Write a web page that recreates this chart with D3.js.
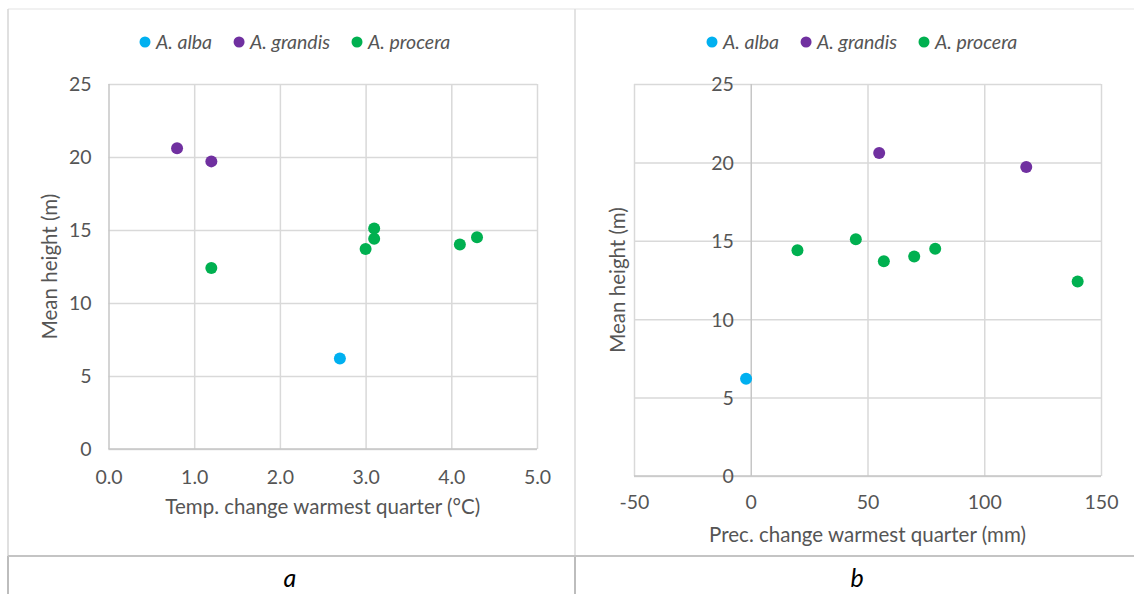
<!DOCTYPE html>
<html>
<head>
<meta charset="utf-8">
<script src="https://cdn.jsdelivr.net/npm/d3@7"></script>
<style>
  html, body { margin: 0; padding: 0; background: #ffffff; }
  svg { display: block; }
  text { font-family: Lato, "Open Sans", sans-serif; }
</style>
</head>
<body>
<svg id="chart" width="1134" height="594"></svg>
<script>
// ---- Data ----
const speciesNames = ["A. alba", "A. grandis", "A. procera"];
const speciesColors = ["#00b0f0", "#7030a0", "#00b050"];

const albaTemp = [2.7];
const albaPrec = [-2];
const albaHeight = [6.2];

const grandisTemp = [0.8, 1.2];
const grandisPrec = [55, 118];
const grandisHeight = [20.6, 19.7];

const proceraTemp = [1.2, 3.1, 3.1, 3.0, 4.1, 4.3];
const proceraPrec = [140, 45, 20, 57, 70, 79];
const proceraHeight = [12.4, 15.1, 14.4, 13.7, 14.0, 14.5];

const tempTicks = [0, 1, 2, 3, 4, 5];
const precTicks = [-50, 0, 50, 100, 150];
const heightTicks = [0, 5, 10, 15, 20, 25];

const xTitleA = "Temp. change warmest quarter (°C)";
const xTitleB = "Prec. change warmest quarter (mm)";
const yTitle = "Mean height (m)";
const panelLabels = ["a", "b"];

// ---- Build series ----
function buildSeries(xs) {
  const hs = [albaHeight, grandisHeight, proceraHeight];
  return speciesNames.map((name, i) => ({
    name, color: speciesColors[i],
    pts: xs[i].map((x, j) => ({ x, y: hs[i][j] }))
  }));
}
const seriesA = buildSeries([albaTemp, grandisTemp, proceraTemp]);
const seriesB = buildSeries([albaPrec, grandisPrec, proceraPrec]);

const svg = d3.select("#chart");
const textColor = "#555555";
const gridColor = "#d9d9d9";
const tickSize = 19.5;
const titleSize = 20.5;
const legendSize = 19.5;

// ---- Frame (table borders) ----
const frame = svg.append("g");
frame.append("line").attr("x1", 8).attr("x2", 1134).attr("y1", 9).attr("y2", 9)
  .attr("stroke", "#ececec").attr("stroke-width", 1.5);
frame.append("line").attr("x1", 8).attr("x2", 8).attr("y1", 9).attr("y2", 556)
  .attr("stroke", "#d6d6d6").attr("stroke-width", 1.5);
frame.append("line").attr("x1", 575).attr("x2", 575).attr("y1", 9).attr("y2", 556)
  .attr("stroke", "#dadada").attr("stroke-width", 1.5);
frame.append("line").attr("x1", 8).attr("x2", 8).attr("y1", 556).attr("y2", 594)
  .attr("stroke", "#bdbdbd").attr("stroke-width", 2);
frame.append("line").attr("x1", 575).attr("x2", 575).attr("y1", 556).attr("y2", 594)
  .attr("stroke", "#bdbdbd").attr("stroke-width", 2);
frame.append("line").attr("x1", 8).attr("x2", 1134).attr("y1", 556).attr("y2", 556)
  .attr("stroke", "#c4c4c4").attr("stroke-width", 2);

function drawPanel(cfg) {
  const g = svg.append("g");
  const x = d3.scaleLinear().domain(cfg.xDomain).range([cfg.left, cfg.right]);
  const y = d3.scaleLinear().domain([0, 25]).range([cfg.bottom, cfg.top]);

  // horizontal gridlines
  const yAxis = d3.axisLeft(y).tickValues(heightTicks).tickSize(-(cfg.right - cfg.left)).tickFormat("");
  const gy = g.append("g").attr("transform", `translate(${cfg.left},0)`).call(yAxis);
  gy.select(".domain").remove();
  gy.selectAll(".tick line").attr("stroke", gridColor).attr("stroke-width", 1.5);

  // vertical gridlines
  const xAxis = d3.axisBottom(x).tickValues(cfg.xTicks).tickSize(-(cfg.bottom - cfg.top)).tickFormat("");
  const gx = g.append("g").attr("transform", `translate(0,${cfg.bottom})`).call(xAxis);
  gx.select(".domain").remove();
  gx.selectAll(".tick line").attr("stroke", d => d === 0 ? "#c6c6c6" : gridColor).attr("stroke-width", 1.5);

  // bottom axis line
  g.append("line").attr("x1", cfg.left).attr("x2", cfg.right)
    .attr("y1", y(0)).attr("y2", y(0)).attr("stroke", "#c6c6c6").attr("stroke-width", 1.5);

  // x tick labels
  const xl = d3.axisBottom(x).tickValues(cfg.xTicks).tickSize(0).tickPadding(0).tickFormat(cfg.xFormat);
  const gxl = g.append("g").attr("transform", `translate(0,${cfg.bottom + cfg.xLabelOffset})`).call(xl);
  gxl.select(".domain").remove();
  gxl.selectAll("text").attr("fill", textColor).attr("font-size", tickSize)
    .attr("font-family", "Lato, sans-serif").attr("dy", "0.35em");

  // y tick labels
  const yl = d3.axisLeft(y).tickValues(heightTicks).tickSize(0).tickPadding(0).tickFormat(d3.format("d"));
  const gyl = g.append("g").attr("transform", `translate(${x(cfg.yAxisAt) - 17},0)`).call(yl);
  gyl.select(".domain").remove();
  gyl.selectAll("text").attr("fill", textColor).attr("font-size", tickSize)
    .attr("font-family", "Lato, sans-serif").attr("dy", "0.35em");

  // titles
  g.append("text").attr("x", (cfg.left + cfg.right) / 2).attr("y", cfg.xTitleY)
    .attr("text-anchor", "middle").attr("dy", "0.35em")
    .attr("fill", textColor).attr("font-size", titleSize).text(cfg.xTitle);
  g.append("text").attr("transform", `translate(${cfg.yTitleX},${(cfg.top + cfg.bottom) / 2}) rotate(-90)`)
    .attr("text-anchor", "middle").attr("dy", "0.35em")
    .attr("fill", textColor).attr("font-size", titleSize).text(yTitle);

  // points
  cfg.series.forEach(s => {
    g.append("g").selectAll("circle").data(s.pts).join("circle")
      .attr("cx", d => x(d.x)).attr("cy", d => y(d.y)).attr("r", 6)
      .attr("fill", s.color);
  });

  // legend
  const lg = g.append("g");
  let cx = cfg.legendStart;
  speciesNames.forEach((name, i) => {
    lg.append("circle").attr("cx", cx).attr("cy", cfg.legendY).attr("r", 5.5).attr("fill", speciesColors[i]);
    const t = lg.append("text").attr("x", cx + 11).attr("y", cfg.legendY)
      .attr("font-size", legendSize).attr("font-style", "italic")
      .attr("fill", textColor).attr("dy", "0.35em").text(name);
    const w = t.node().getComputedTextLength();
    cx += 11 + w + 27;
  });

  // panel label
  g.append("text").attr("x", cfg.panelLabelX).attr("y", 578).attr("text-anchor", "middle")
    .attr("dy", "0.35em").attr("font-size", 25).attr("font-style", "italic")
    .attr("fill", "#000").attr("font-family", "'Open Sans', sans-serif").text(cfg.panelLabel);
}

const hyphenInt = d => String(d).replace("\u2212", "-");

drawPanel({
  xDomain: [0, 5], xTicks: tempTicks, xFormat: d3.format(".1f"),
  left: 108.5, right: 537, top: 84, bottom: 449, yAxisAt: 0,
  xLabelOffset: 28, xTitle: xTitleA, xTitleY: 507, yTitleX: 50,
  series: seriesA, legendStart: 145, legendY: 42,
  panelLabel: panelLabels[0], panelLabelX: 290
});

drawPanel({
  xDomain: [-50, 150], xTicks: precTicks, xFormat: hyphenInt,
  left: 634, right: 1101, top: 84, bottom: 476, yAxisAt: 0,
  xLabelOffset: 26, xTitle: xTitleB, xTitleY: 535, yTitleX: 618,
  series: seriesB, legendStart: 712, legendY: 42,
  panelLabel: panelLabels[1], panelLabelX: 857
});
</script>
</body>
</html>
